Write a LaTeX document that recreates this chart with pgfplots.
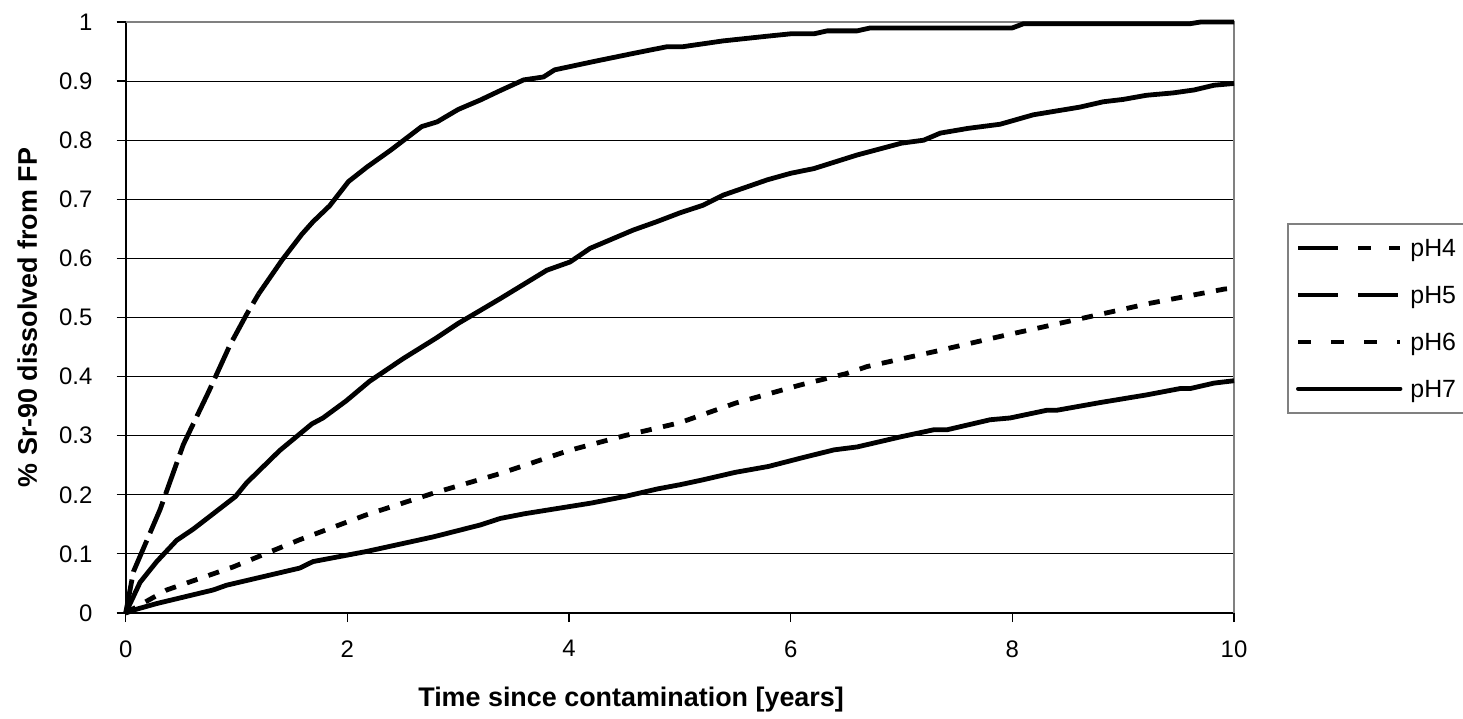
\documentclass[border=0pt]{standalone}
\usepackage{fontspec}
\setmainfont{Liberation Sans}
\usepackage{pgfplots}
\pgfplotsset{compat=1.18}
\newcommand{\legfont}{\fontsize{12.5}{15}\selectfont}
\begin{document}
\begin{tikzpicture}
\useasboundingbox (0,0) rectangle (731.5bp,359.5bp);
\begin{axis}[
  at={(62.85bp,53bp)}, anchor=south west,
  scale only axis, width=554.15bp, height=295.5bp,
  xmin=0, xmax=10, ymin=0, ymax=1,
  clip=false,
  axis lines=left,
  axis line style={-, black, line width=0.8bp},
  xtick={0,2,4,6,8,10},
  xticklabels={0,2,4,6,8,10},
  ytick={0,0.1,0.2,0.3,0.4,0.5,0.6,0.7,0.8,0.9,1},
  yticklabels={0,0.1,0.2,0.3,0.4,0.5,0.6,0.7,0.8,0.9,1},
  tick align=outside,
  major tick length=4.5bp,
  tick style={black, line width=0.6bp},
  ymajorgrids,
  major grid style={black, line width=0.5bp},
  tick label style={font=\fontsize{12}{14}\selectfont, inner sep=0pt},
  yticklabel style={anchor=east, xshift=-12bp},
  xticklabel style={anchor=north, yshift=-9bp},
  xlabel={Time since contamination [years]},
  ylabel={\% Sr-90 dissolved from FP},
  label style={font=\fontsize{13.5}{16}\selectfont\bfseries, inner sep=0pt},
  xlabel style={at={(axis description cs:0.456,-0.1252)}, anchor=north},
  ylabel style={at={(axis description cs:-0.0981,0.5)}, anchor=north, rotate=0},
  legend style={at={(axis description cs:1.048,0.66)}, anchor=north west,
    draw=gray, line width=0.8bp, fill=white,
    inner xsep=4bp, inner ysep=7.7bp,
    row sep=14.9bp,
    font=\legfont,
    nodes={text height=8.6bp, text depth=0bp, inner sep=0pt},
    /tikz/every odd column/.append style={column sep=4bp}},
  legend cell align=left,
  legend image code/.code={\draw[#1] (0bp,0bp) -- (51bp,0bp);},
]
\draw[gray, line width=1bp] (rel axis cs:0,1) -- (rel axis cs:1,1) -- (rel axis cs:1,0);

\addlegendimage{black, line width=2.2bp, dash pattern=on 20bp off 10bp on 6.5bp off 9bp}
\addlegendentry{\legfont pH4\rule{8bp}{0pt}}
\addlegendimage{black, line width=2.2bp, dash pattern=on 20bp off 10bp}
\addlegendentry{\legfont pH5\rule{8bp}{0pt}}
\addlegendimage{black, line width=2.2bp, dash pattern=on 6.5bp off 10bp}
\addlegendentry{\legfont pH6\rule{8bp}{0pt}}
\addlegendimage{black, line width=2.2bp, line cap=round}
\addlegendentry{\legfont pH7\rule{8bp}{0pt}}

% pH4
\addplot[forget plot, black, line width=2.4bp, dash pattern=on 17bp off 4bp] coordinates {
(0,0) (0.07,0.07) (0.31,0.175) (0.52,0.285) (0.75,0.375) (0.94,0.453) (1.09,0.505) (1.2,0.54)
};
\addplot[forget plot, black, line width=2.4bp, line join=round] coordinates {
(1.2,0.54) (1.41,0.597) (1.59,0.641) (1.69,0.662) (1.84,0.689) (2.01,0.73) (2.18,0.755)
(2.39,0.783) (2.67,0.823) (2.81,0.831) (3.0,0.852) (3.2,0.868) (3.38,0.884) (3.59,0.902)
(3.77,0.907) (3.87,0.919) (4.22,0.933) (4.61,0.948) (4.88,0.958) (5.02,0.958) (5.39,0.968)
(5.79,0.976) (6.0,0.98) (6.21,0.98) (6.33,0.985) (6.6,0.985) (6.72,0.99) (7.0,0.99)
(7.5,0.99) (8.0,0.99) (8.1,0.997) (9.6,0.997) (9.7,1.0) (10,1.0)
};
% pH5
\addplot[forget plot, black, line width=2.4bp, line join=round] coordinates {
(0,0) (0.13,0.052) (0.28,0.087) (0.46,0.123) (0.61,0.142) (0.79,0.168) (0.99,0.197)
(1.09,0.22) (1.39,0.275) (1.68,0.32) (1.78,0.33) (1.99,0.359) (2.2,0.392) (2.5,0.43)
(2.8,0.465) (3.0,0.49) (3.2,0.512) (3.38,0.532) (3.8,0.58) (4.01,0.594) (4.19,0.617)
(4.58,0.648) (4.79,0.662) (5.0,0.677) (5.21,0.69) (5.39,0.707) (5.79,0.733) (6.0,0.744)
(6.21,0.752) (6.6,0.775) (7.0,0.795) (7.2,0.80) (7.35,0.812) (7.6,0.82) (7.89,0.827)
(8.19,0.843) (8.61,0.856) (8.82,0.865) (9.0,0.869) (9.21,0.876) (9.45,0.880) (9.64,0.885)
(9.82,0.893) (10,0.896)
};
% pH6
\addplot[forget plot, black, line width=2.4bp, dash pattern=on 5.6bp off 5.8bp] coordinates {
(0,0) (0.37,0.039) (0.97,0.078) (1.57,0.124) (2.17,0.166) (2.78,0.203) (3.38,0.236)
(4.0,0.275) (4.5,0.30) (5.0,0.322) (5.5,0.355) (6.09,0.386) (6.5,0.405) (6.69,0.417)
(7.29,0.442) (7.89,0.468) (8.64,0.499) (9.24,0.524) (9.91,0.548) (10,0.55)
};
% pH7
\addplot[forget plot, black, line width=2.4bp, line join=round] coordinates {
(0,0) (0.09,0.006) (0.28,0.016) (0.79,0.039) (0.91,0.047) (1.57,0.076) (1.69,0.087)
(2.17,0.104) (2.78,0.129) (3.2,0.149) (3.38,0.16) (3.6,0.168) (4.0,0.18) (4.2,0.186)
(4.5,0.197) (4.8,0.21) (5.0,0.217) (5.2,0.225) (5.5,0.238) (5.8,0.248) (6.09,0.262)
(6.39,0.276) (6.6,0.281) (6.99,0.298) (7.29,0.31) (7.41,0.31) (7.8,0.327) (7.98,0.33)
(8.31,0.343) (8.4,0.343) (8.79,0.356) (9.21,0.369) (9.52,0.380) (9.61,0.380) (9.82,0.389)
(10,0.393)
};
\end{axis}
\end{tikzpicture}
\end{document}
